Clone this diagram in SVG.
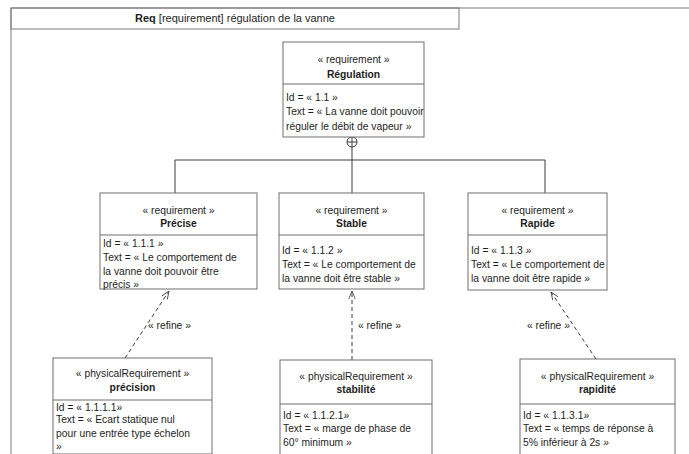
<svg xmlns="http://www.w3.org/2000/svg" width="689" height="454" viewBox="0 0 689 454">
  <defs>
    <style>
      .frame { fill: none; stroke: #7a7a7a; stroke-width: 1; }
      .box { fill: #ffffff; stroke: #6e6e6e; stroke-width: 1; }
      .sep { stroke: #6e6e6e; stroke-width: 1; }
      .t { font-family: "Liberation Sans", Arial, sans-serif; font-size: 10.3px; fill: #1e1e1e; }
      .h { font-family: "Liberation Sans", Arial, sans-serif; font-size: 11px; fill: #1e1e1e; }
      .c { text-anchor: middle; }
      .b { font-weight: bold; }
      .line { fill: none; stroke: #3c3c3c; stroke-width: 1; }
      .dash { fill: none; stroke: #3c3c3c; stroke-width: 1; stroke-dasharray: 4 3; }
    </style>
    <marker id="open" viewBox="0 0 10 10" refX="10" refY="5" markerWidth="8" markerHeight="8" orient="auto" markerUnits="userSpaceOnUse">
      <path d="M0,1 L10,5 L0,9" fill="none" stroke="#3c3c3c" stroke-width="1"/>
    </marker>
  </defs>

  <rect width="689" height="454" fill="#ffffff"/>

  <!-- diagram frame and its heading -->
  <g id="frame">
    <path class="frame" d="M11,454 L11,8 L689,8"/>
    <rect class="frame" x="11" y="8" width="448" height="21"/>
    <text class="h c" x="235" y="22"><tspan class="b">Req</tspan> [requirement] régulation de la vanne</text>
  </g>

  <!-- connectors -->
  <g id="connectors">
    <!-- containment tree -->
    <circle class="line" cx="352" cy="142" r="5" fill="#fff"/>
    <path class="line" d="M347,142 L357,142 M352,137 L352,147"/>
    <path class="line" d="M352,147 L352,160 M175,160 L545,160 M175,160 L175,193 M352,160 L352,193 M545,160 L545,193"/>
    <!-- refine dependencies -->
    <line class="dash" x1="125" y1="358" x2="169" y2="291" marker-end="url(#open)"/>
    <line class="dash" x1="352" y1="360" x2="352" y2="291" marker-end="url(#open)"/>
    <line class="dash" x1="596" y1="359" x2="551" y2="292" marker-end="url(#open)"/>
    <text class="t" x="148" y="329">« refine »</text>
    <text class="t" x="358" y="329">« refine »</text>
    <text class="t" x="527" y="329">« refine »</text>
  </g>

  <g id="regulation">
    <rect class="box" x="283" y="42" width="141" height="95"/>
    <line class="sep" x1="283" y1="84" x2="424" y2="84"/>
    <text class="t c" x="353.5" y="63">« requirement »</text>
    <text class="t c b" x="353.5" y="78">Régulation</text>
    <text class="t" x="286" y="101">Id = « 1.1 »</text>
    <text class="t" x="286" y="115">Text = « La vanne doit pouvoir</text>
    <text class="t" x="286" y="130">réguler le débit de vapeur »</text>
  </g>

  <g id="precise">
    <rect class="box" x="100" y="193" width="157" height="96"/>
    <line class="sep" x1="100" y1="235" x2="257" y2="235"/>
    <text class="t c" x="178.5" y="214">« requirement »</text>
    <text class="t c b" x="178.5" y="227">Précise</text>
    <text class="t" x="103" y="247">Id = « 1.1.1 »</text>
    <text class="t" x="103" y="261">Text = « Le comportement de</text>
    <text class="t" x="103" y="275">la vanne doit pouvoir être</text>
    <text class="t" x="103" y="288">précis »</text>
  </g>

  <g id="stable">
    <rect class="box" x="279" y="193" width="145" height="96"/>
    <line class="sep" x1="279" y1="235" x2="424" y2="235"/>
    <text class="t c" x="351.5" y="214">« requirement »</text>
    <text class="t c b" x="351.5" y="227">Stable</text>
    <text class="t" x="282" y="254">Id = « 1.1.2 »</text>
    <text class="t" x="282" y="268">Text = « Le comportement de</text>
    <text class="t" x="282" y="282">la vanne doit être stable »</text>
  </g>

  <g id="rapide">
    <rect class="box" x="468" y="193" width="139" height="97"/>
    <line class="sep" x1="468" y1="235" x2="607" y2="235"/>
    <text class="t c" x="537.5" y="214">« requirement »</text>
    <text class="t c b" x="537.5" y="227">Rapide</text>
    <text class="t" x="471" y="254">Id = « 1.1.3 »</text>
    <text class="t" x="471" y="268">Text = « Le comportement de</text>
    <text class="t" x="471" y="282">la vanne doit être rapide »</text>
  </g>

  <g id="precision">
    <rect class="box" x="53" y="358" width="159" height="96"/>
    <line class="sep" x1="53" y1="400" x2="212" y2="400"/>
    <text class="t c" x="132.5" y="377">« physicalRequirement »</text>
    <text class="t c b" x="132.5" y="391">précision</text>
    <text class="t" x="56" y="411">Id = « 1.1.1.1»</text>
    <text class="t" x="56" y="423">Text = « Ecart statique nul</text>
    <text class="t" x="56" y="437">pour une entrée type échelon</text>
    <text class="t" x="56" y="450">»</text>
  </g>

  <g id="stabilite">
    <rect class="box" x="280" y="360" width="152" height="100"/>
    <line class="sep" x1="280" y1="404" x2="432" y2="404"/>
    <text class="t c" x="356" y="380">« physicalRequirement »</text>
    <text class="t c b" x="356" y="393">stabilité</text>
    <text class="t" x="283" y="419">Id = « 1.1.2.1»</text>
    <text class="t" x="283" y="432">Text = « marge de phase de</text>
    <text class="t" x="283" y="446">60° minimum »</text>
  </g>

  <g id="rapidite">
    <rect class="box" x="520" y="359" width="155" height="100"/>
    <line class="sep" x1="520" y1="404" x2="675" y2="404"/>
    <text class="t c" x="597.5" y="380">« physicalRequirement »</text>
    <text class="t c b" x="597.5" y="393">rapidité</text>
    <text class="t" x="523" y="419">Id = « 1.1.3.1»</text>
    <text class="t" x="523" y="432">Text = « temps de réponse à</text>
    <text class="t" x="523" y="446">5% inférieur à 2s »</text>
  </g>
</svg>
